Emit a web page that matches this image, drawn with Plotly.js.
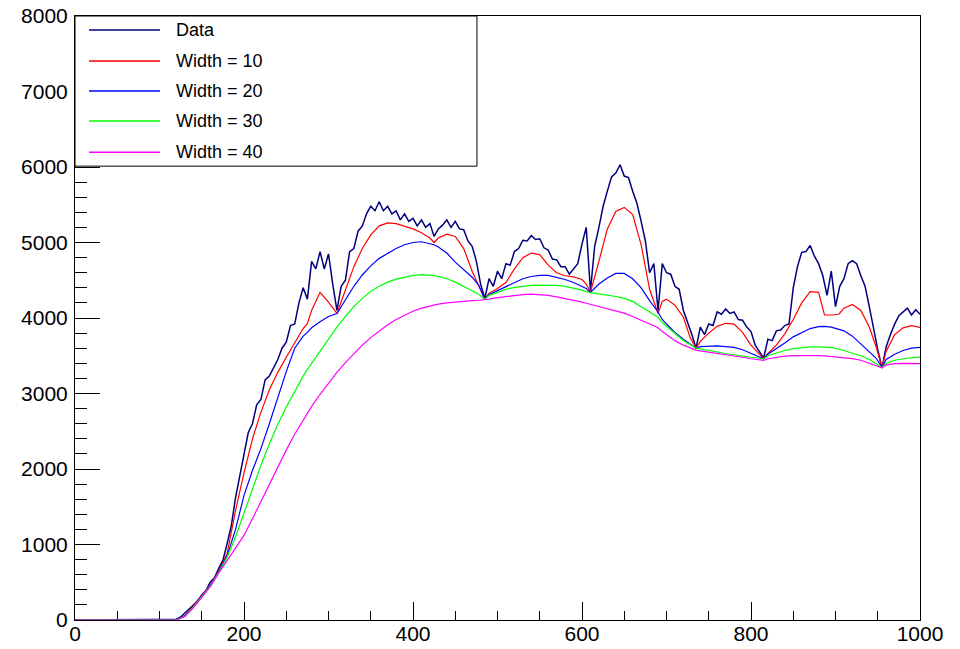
<!DOCTYPE html>
<html>
<head>
<meta charset="utf-8">
<script src="https://cdn.plot.ly/plotly-3.0.1.min.js"></script>
<style>html,body{margin:0;padding:0;background:#fff;}#chart{width:960px;height:649px;}</style>
</head>
<body>
<div id="chart"></div>
<script>
// ---- Data (bin step 5, x = 0..1000) ----
const dataStep = 5;
const dataY = [
  0,0,0,0,0,0,0,0,0,0,0,0,0,0,0,0,0,0,0,0,
  0,0,0,0,10,40,90,140,195,250,330,390,500,560,680,790,1010,1250,1620,1900,
  2150,2480,2600,2850,2920,3180,3230,3350,3450,3600,3680,3900,3920,4200,4400,4250,4750,4650,4880,4650,
  4850,4450,4100,4420,4500,4880,4920,5150,5220,5380,5480,5420,5540,5420,5480,5380,5420,5300,5380,5280,
  5320,5220,5300,5200,5250,5080,5180,5230,5300,5200,5280,5180,5170,5020,4950,4750,4450,4260,4520,4420,
  4620,4520,4720,4700,4880,4920,5030,5020,5090,5040,5050,4930,4900,4780,4770,4680,4680,4580,4650,4720,
  4980,5200,4360,4950,5200,5480,5680,5870,5920,6030,5880,5860,5680,5520,5280,5020,4600,4720,4100,4720,
  4600,4580,4420,4380,4100,3950,3780,3600,3880,3780,3920,3900,4080,4050,4120,4060,4080,3980,3970,3880,
  3820,3640,3560,3470,3720,3700,3830,3840,3900,3920,4400,4680,4870,4880,4960,4820,4720,4560,4300,4620,
  4150,4420,4520,4720,4760,4720,4560,4420,4150,3850,3580,3340,3620,3780,3920,4030,4080,4130,4040,4110,
  4050
];

// ---- Background estimates (shared x positions) ----
const bgX = [
  0,20,40,60,80,100,110,120,
  130,140,150,160,170,180,190,200,210,220,230,240,250,260,270,
  275,
  280,290,300,310,320,330,340,350,360,370,380,390,400,410,420,
  425,
  430,440,450,460,470,
  478,485,
  490,500,510,520,530,540,550,560,570,580,590,600,
  605,610,
  620,630,640,650,660,670,680,
  690,695,
  700,710,720,
  728,735,
  740,750,760,770,780,790,800,
  808,815,
  820,830,840,850,860,870,880,
  887,895,904,
  910,920,930,940,
  948,955,
  960,970,980,990,1000
];
const width10 = [
  0,0,0,0,0,0,0,0,
  60,190,320,460,650,880,1450,1950,2400,2750,3050,3280,3480,3680,3860,
  3926,
  4100,4340,4210,4060,4380,4680,4920,5100,5220,5260,5250,5220,5180,5130,5060,
  5000,
  5060,5110,5080,4920,4620,
  4420,4250,
  4330,4390,4470,4650,4800,4860,4840,4700,4600,4560,4545,4510,
  4450,4340,
  4750,5180,5410,5465,5370,4970,4380,
  4060,4220,
  4250,4170,4010,
  3740,3600,
  3690,3800,3890,3930,3920,3810,3640,
  3540,3460,
  3530,3640,3790,3980,4200,4350,4340,
  4040,4040,4050,
  4130,4180,4100,3880,
  3620,3345,
  3560,3780,3870,3900,3875
];
const width20 = [
  0,0,0,0,0,0,0,0,
  55,180,320,455,640,850,1200,1650,1980,2270,2600,2950,3290,3600,3760,
  3810,
  3870,3950,4020,4060,4240,4420,4570,4690,4790,4860,4920,4970,5000,5010,4990,
  4970,
  4940,4860,4740,4640,4540,
  4430,4250,
  4310,4360,4410,4470,4520,4550,4565,4565,4540,4510,4470,4420,
  4390,4340,
  4450,4530,4590,4590,4520,4400,4230,
  4080,3980,
  3920,3810,3720,
  3655,3600,
  3620,3630,3630,3620,3610,3580,3530,
  3495,3460,
  3520,3590,3670,3750,3810,3860,3885,
  3890,3880,3850,
  3830,3760,3660,3560,
  3470,3345,
  3450,3520,3570,3600,3610
];
const width30 = [
  0,0,0,0,0,0,0,0,
  50,170,310,450,630,830,1100,1420,1740,2050,2330,2590,2820,3030,3230,
  3320,
  3400,3570,3730,3880,4020,4150,4260,4350,4420,4475,4515,4545,4565,4575,4570,
  4562,
  4552,4520,4475,4420,4360,
  4310,4250,
  4300,4340,4380,4405,4420,4432,4435,4435,4432,4420,4400,4370,
  4350,4335,
  4320,4305,4285,4260,4220,4150,4080,
  4010,3940,
  3890,3800,3700,
  3650,3600,
  3590,3565,3550,3530,3510,3495,3480,
  3470,3460,
  3500,3540,3570,3595,3610,3617,3618,
  3615,3608,3590,
  3570,3540,3500,3450,
  3400,3345,
  3400,3440,3460,3475,3485
];
const width40 = [
  0,0,0,0,0,0,0,0,
  45,160,300,440,620,790,950,1120,1340,1570,1800,2030,2250,2460,2650,
  2740,
  2830,2990,3140,3280,3410,3530,3640,3740,3830,3910,3980,4040,4090,4130,4160,
  4172,
  4183,4200,4213,4222,4230,
  4235,4240,
  4250,4270,4285,4300,4310,4315,4312,4300,4280,4260,4240,4210,
  4195,4180,
  4160,4130,4100,4065,4020,3970,3920,
  3870,3820,
  3780,3700,3640,
  3600,3575,
  3565,3550,3535,3520,3500,3480,3460,
  3450,3440,
  3460,3480,3495,3502,3505,3505,3502,
  3498,3490,3480,
  3472,3462,3440,3400,
  3370,3340,
  3380,3396,3398,3398,3396
];

const seriesNames = ["Data", "Width = 10", "Width = 20", "Width = 30", "Width = 40"];
const seriesColors = ["#00007f", "#ff0000", "#0000ff", "#00ff00", "#ff00ff"];
const xTicks = [0, 200, 400, 600, 800, 1000];
const yTicks = [0, 1000, 2000, 3000, 4000, 5000, 6000, 7000, 8000];

const dataX = dataY.map((_, i) => i * dataStep);
const bgSeries = [width10, width20, width30, width40];

const traces = [{
  x: dataX, y: dataY, type: 'scatter', mode: 'lines', name: seriesNames[0],
  line: {color: seriesColors[0], width: 1.5}, showlegend: false, hoverinfo: 'skip'
}];
bgSeries.forEach((s, k) => traces.push({
  x: bgX, y: s, type: 'scatter', mode: 'lines', name: seriesNames[k + 1],
  line: {color: seriesColors[k + 1], width: 1.2}, showlegend: false, hoverinfo: 'skip'
}));

// ---- Legend box (paper coordinates) ----
const legX0 = 0, legX1 = 0.4757, legY0 = 0.7514, legY1 = 1;
const legRows = [0.9768, 0.9254, 0.8757, 0.8260, 0.7746];
const shapes = [{
  type: 'rect', xref: 'paper', yref: 'paper', x0: legX0, x1: legX1, y0: legY0, y1: legY1,
  fillcolor: '#ffffff', line: {color: '#000000', width: 1}, layer: 'above'
}];
const annotations = [];
seriesNames.forEach((n, i) => {
  shapes.push({type: 'line', xref: 'paper', yref: 'paper', x0: 0.0166, x1: 0.1006,
    y0: legRows[i], y1: legRows[i], line: {color: seriesColors[i], width: 1.5}, layer: 'above'});
  annotations.push({xref: 'paper', yref: 'paper', x: 0.1172, y: legRows[i], xanchor: 'left',
    yanchor: 'middle', text: n, showarrow: false,
    font: {family: 'Liberation Sans, Arial, sans-serif', size: 18, color: '#000'}});
});

const tickFont = {family: 'Liberation Sans, Arial, sans-serif', size: 21, color: '#000'};
const layout = {
  width: 960, height: 649,
  margin: {l: 75, r: 40, t: 16, b: 29, pad: 0},
  paper_bgcolor: '#ffffff', plot_bgcolor: '#ffffff',
  showlegend: false,
  xaxis: {
    range: [0, 1000], tickvals: xTicks, ticktext: xTicks.map(String),
    ticks: 'inside', ticklen: 18, tickwidth: 1, tickcolor: '#000',
    minor: {dtick: 50, ticks: 'inside', ticklen: 9, tickwidth: 1, tickcolor: '#000', showgrid: false},
    showgrid: false, zeroline: false, showline: true, linecolor: '#000', linewidth: 1, mirror: true,
    tickfont: tickFont, layer: 'below traces', ticklabelstandoff: -5
  },
  yaxis: {
    range: [0, 8000], tickvals: yTicks, ticktext: yTicks.map(String),
    ticks: 'inside', ticklen: 25, tickwidth: 1, tickcolor: '#000',
    minor: {dtick: 200, ticks: 'inside', ticklen: 12, tickwidth: 1, tickcolor: '#000', showgrid: false},
    showgrid: false, zeroline: false, showline: true, linecolor: '#000', linewidth: 1, mirror: true,
    tickfont: tickFont, layer: 'below traces', ticklabelstandoff: 2
  },
  shapes: shapes,
  annotations: annotations
};

Plotly.newPlot('chart', traces, layout, {staticPlot: true, displayModeBar: false});
</script>
</body>
</html>
